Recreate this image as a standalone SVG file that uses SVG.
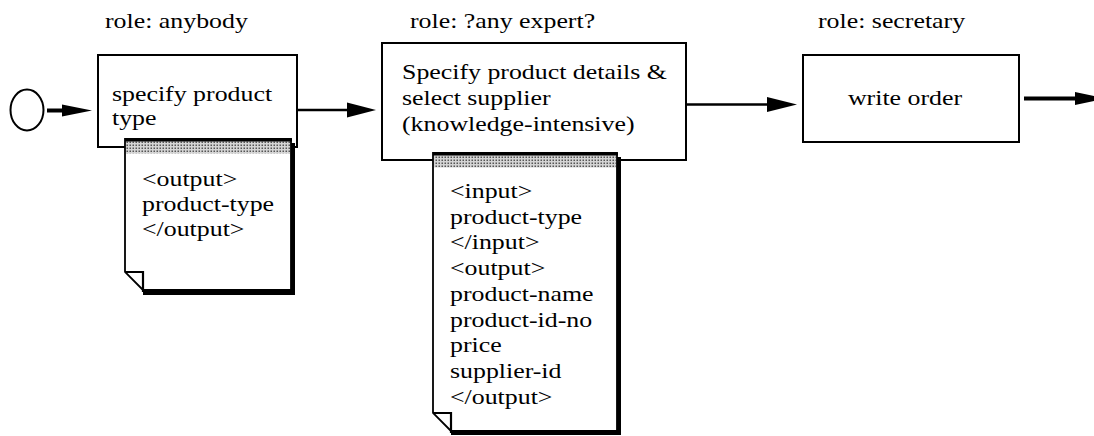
<svg xmlns="http://www.w3.org/2000/svg" width="1094" height="436" viewBox="0 0 1094 436">
  <defs>
    <pattern id="dots" width="3" height="3" patternUnits="userSpaceOnUse">
      <rect width="3" height="3" fill="#d4d4d4"/>
      <rect x="0.5" y="0.5" width="1.5" height="1.5" fill="#555"/>
    </pattern>
  </defs>
  <style>
    .t { font-family: "Liberation Serif", "Times New Roman", serif; font-size: 22px; fill: #000; }
    .box { fill: #fff; stroke: #000; stroke-width: 2; }
    .doc { fill: #fff; stroke: #000; stroke-width: 1.8; }
    .shadow { fill: #000; }
    .band { fill: url(#dots); }
    .bandtop { stroke: #000; stroke-width: 3; }
    .fold { fill: none; stroke: #000; stroke-width: 2.2; }
    .thin { stroke: #000; stroke-width: 2.5; fill: none; }
    .thick { stroke: #000; stroke-width: 4; fill: none; }
    .head { fill: #000; }
  </style>

  <g id="labels">
    <text class="t" transform="translate(105,28) scale(1.175,1)">role: anybody</text>
    <text class="t" transform="translate(410,28) scale(1.175,1)">role: ?any expert?</text>
    <text class="t" transform="translate(818,28) scale(1.175,1)">role: secretary</text>
  </g>

  <g id="start">
    <ellipse cx="27" cy="110" rx="16.5" ry="20.5" fill="#fff" stroke="#000" stroke-width="2"/>
  </g>

  <g id="connectors">
    <line class="thick" x1="47" y1="110.5" x2="64" y2="110.5"/>
    <polygon class="head" points="62,104.5 92,110.5 62,116.5"/>
    <line class="thin" x1="297" y1="110" x2="350" y2="110"/>
    <polygon class="head" points="347,102.5 376,110 347,117.5"/>
    <line class="thin" x1="686" y1="104.5" x2="770" y2="104.5"/>
    <polygon class="head" points="767,97 797,104.5 767,112"/>
    <line class="thick" x1="1024" y1="98.5" x2="1078" y2="98.5"/>
    <polygon class="head" points="1075,92 1105,98.5 1075,105"/>
  </g>

  <g id="task1">
    <rect class="box" x="98" y="55" width="199" height="92"/>
    <text class="t" transform="translate(112,100.5) scale(1.175,1)"><tspan x="0" y="0">specify product</tspan><tspan x="0" y="25">type</tspan></text>
  </g>

  <g id="doc1">
    <rect class="shadow" x="143" y="143" width="152" height="152"/>
    <polygon class="doc" points="125,139 291,139 291,290 143,290 125,272"/>
    <rect class="band" x="126" y="140.5" width="164" height="13"/>
    <line class="bandtop" x1="125" y1="140" x2="292" y2="140"/>
    <polyline class="fold" points="125,272 143,272 143,292"/>
    <text class="t" transform="translate(142,186) scale(1.175,1)"><tspan x="0" y="0">&lt;output&gt;</tspan><tspan x="0" y="25">product-type</tspan><tspan x="0" y="50">&lt;/output&gt;</tspan></text>
  </g>

  <g id="task2">
    <rect class="box" x="382" y="43" width="304" height="117"/>
    <text class="t" transform="translate(402,79) scale(1.175,1)"><tspan x="0" y="0">Specify product details &amp;</tspan><tspan x="0" y="26">select supplier</tspan><tspan x="0" y="52">(knowledge-intensive)</tspan></text>
  </g>

  <g id="doc2">
    <rect class="shadow" x="451" y="157" width="170" height="278"/>
    <polygon class="doc" points="433,153 617,153 617,431 451,431 433,413"/>
    <rect class="band" x="434" y="154.5" width="182" height="13"/>
    <line class="bandtop" x1="433" y1="154" x2="618" y2="154"/>
    <polyline class="fold" points="433,413 451,413 451,433"/>
    <text class="t" transform="translate(450,198) scale(1.175,1)"><tspan x="0" y="0">&lt;input&gt;</tspan><tspan x="0" y="25.75">product-type</tspan><tspan x="0" y="51.5">&lt;/input&gt;</tspan><tspan x="0" y="77.25">&lt;output&gt;</tspan><tspan x="0" y="103">product-name</tspan><tspan x="0" y="128.75">product-id-no</tspan><tspan x="0" y="154.5">price</tspan><tspan x="0" y="180.25">supplier-id</tspan><tspan x="0" y="206">&lt;/output&gt;</tspan></text>
  </g>

  <g id="task3">
    <rect class="box" x="803" y="55" width="216" height="87"/>
    <text class="t" text-anchor="middle" transform="translate(905,105) scale(1.175,1)">write order</text>
  </g>
</svg>
